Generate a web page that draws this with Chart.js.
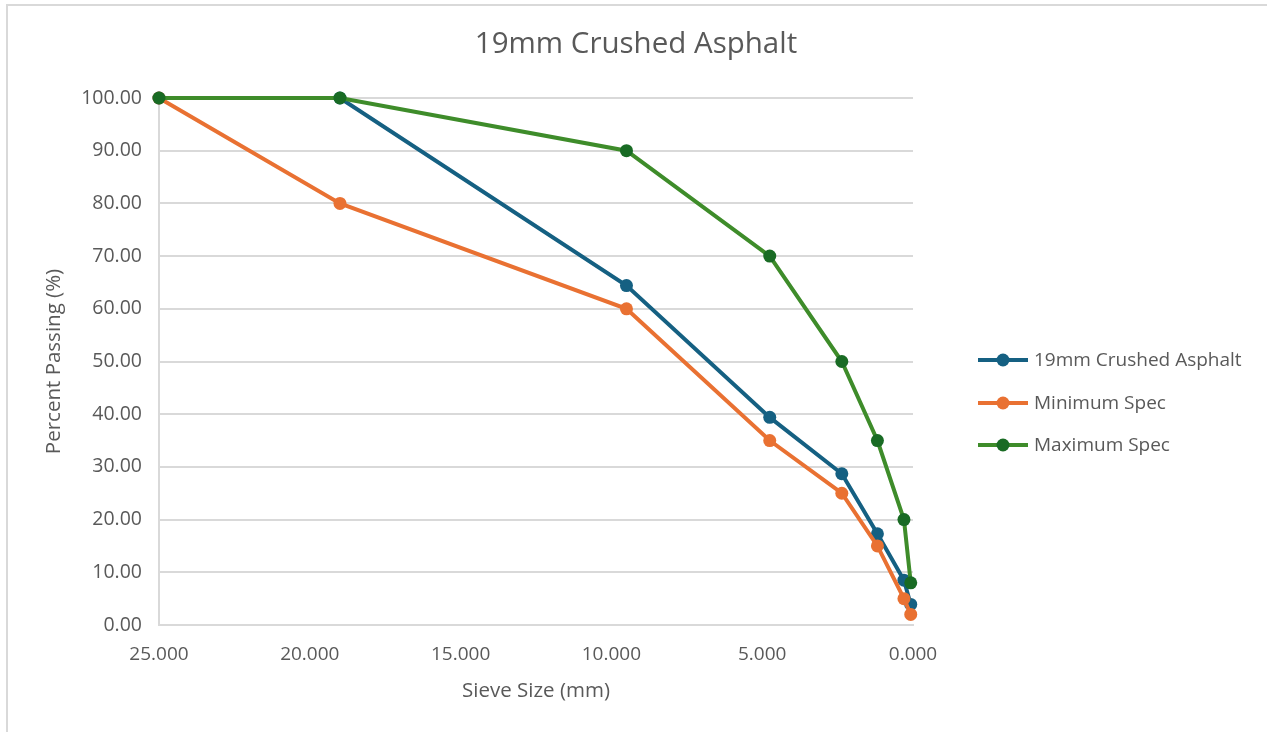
<!DOCTYPE html>
<html>
<head>
<meta charset="utf-8">
<script src="https://cdn.jsdelivr.net/npm/chart.js@4"></script>
<style>
  html, body { margin: 0; padding: 0; background: #fff; }
  #wrap { position: relative; width: 1267px; height: 732px; }
  #frame { position: absolute; left: 6px; top: 4px; right: 0; bottom: 0; border-top: 2px solid #d9d9d9; border-left: 2px solid #d9d9d9; pointer-events: none; }
  canvas { position: absolute; left: 0; top: 0; }
</style>
</head>
<body>
<div id="wrap">
  <canvas id="c" width="1267" height="732"></canvas>
  <div id="frame"></div>
</div>
<script>
const chartTitle = "19mm Crushed Asphalt";
const xAxisTitle = "Sieve Size (mm)";
const yAxisTitle = "Percent Passing (%)";
const sieveSizes = [25, 19, 9.5, 4.75, 2.36, 1.18, 0.3, 0.075];
const seriesNames = ["19mm Crushed Asphalt", "Minimum Spec", "Maximum Spec"];
const crushedAsphalt = [100, 100, 64.4, 39.4, 28.7, 17.3, 8.5, 3.9];
const minimumSpec = [100, 80, 60, 35, 25, 15, 5, 2];
const maximumSpec = [100, 100, 90, 70, 50, 35, 20, 8];
const lineColors = ["#156082", "#E97132", "#3E8C2A"];
const markerColors = ["#156082", "#E97132", "#196B24"];

const FONT = "'Open Sans', 'Noto Sans', sans-serif";
const TEXT = "#595959";

function pts(vals) { return sieveSizes.map((x, i) => ({ x: x, y: vals[i] })); }
const allSeries = [crushedAsphalt, minimumSpec, maximumSpec];

// later series drawn on top (lower 'order' = drawn on top in Chart.js)
const datasets = allSeries.map((vals, i) => ({
  label: seriesNames[i],
  data: pts(vals),
  order: 2 - i,
  borderColor: lineColors[i],
  backgroundColor: markerColors[i],
  pointBackgroundColor: markerColors[i],
  pointBorderColor: markerColors[i],
  borderWidth: 4,
  pointRadius: 6.5,
  pointBorderWidth: 0,
  tension: 0,
  clip: false
}));

const decor = {
  id: 'decor',
  afterDraw(chart) {
    const ctx = chart.ctx;
    ctx.save();
    ctx.fillStyle = TEXT;
    ctx.font = "29.5px " + FONT;
    ctx.textAlign = "center";
    ctx.textBaseline = "middle";
    ctx.fillText(chartTitle, 636, 45);
    // legend
    const ys = [360, 403, 445];
    ctx.font = "19px " + FONT;
    ctx.textAlign = "left";
    for (let i = 0; i < 3; i++) {
      const y = ys[i];
      ctx.strokeStyle = lineColors[i];
      ctx.lineWidth = 4;
      ctx.beginPath(); ctx.moveTo(978, y); ctx.lineTo(1028, y); ctx.stroke();
      ctx.fillStyle = markerColors[i];
      ctx.beginPath(); ctx.arc(1003, y, 6.5, 0, Math.PI * 2); ctx.fill();
      ctx.fillStyle = TEXT;
      ctx.fillText(seriesNames[i], 1034, y + 1);
    }
    ctx.restore();
  }
};

new Chart(document.getElementById('c'), {
  type: 'line',
  data: { datasets: datasets },
  options: {
    responsive: false,
    animation: false,
    devicePixelRatio: 1,
    layout: { padding: { left: 0, right: 354, top: 98, bottom: 0 } },
    plugins: { legend: { display: false }, title: { display: false }, tooltip: { enabled: false } },
    scales: {
      x: {
        type: 'linear',
        reverse: true,
        min: 0, max: 25,
        afterFit(s) { s.height = 107; },
        ticks: { stepSize: 5, color: TEXT, font: { family: FONT, size: 19 }, padding: 18,
                 callback: v => Number(v).toFixed(3), maxRotation: 0 },
        grid: { display: false, drawTicks: false },
        border: { display: true, color: "#d9d9d9", width: 2 },
        title: { display: true, text: xAxisTitle, color: TEXT, font: { family: FONT, size: 20.5 }, padding: { top: 0, bottom: 29 } }
      },
      y: {
        min: 0, max: 100,
        afterFit(s) { s.width = 159; },
        ticks: { stepSize: 10, color: TEXT, font: { family: FONT, size: 19.5 }, padding: 17,
                 callback: v => Number(v).toFixed(2) },
        grid: { color: "#d9d9d9", lineWidth: 2, drawTicks: false },
        border: { display: true, color: "#d9d9d9", width: 2 },
        title: { display: true, text: yAxisTitle, color: TEXT, font: { family: FONT, size: 20.5 }, padding: { top: 42, bottom: 0 } }
      }
    }
  },
  plugins: [decor]
});
</script>
</body>
</html>
